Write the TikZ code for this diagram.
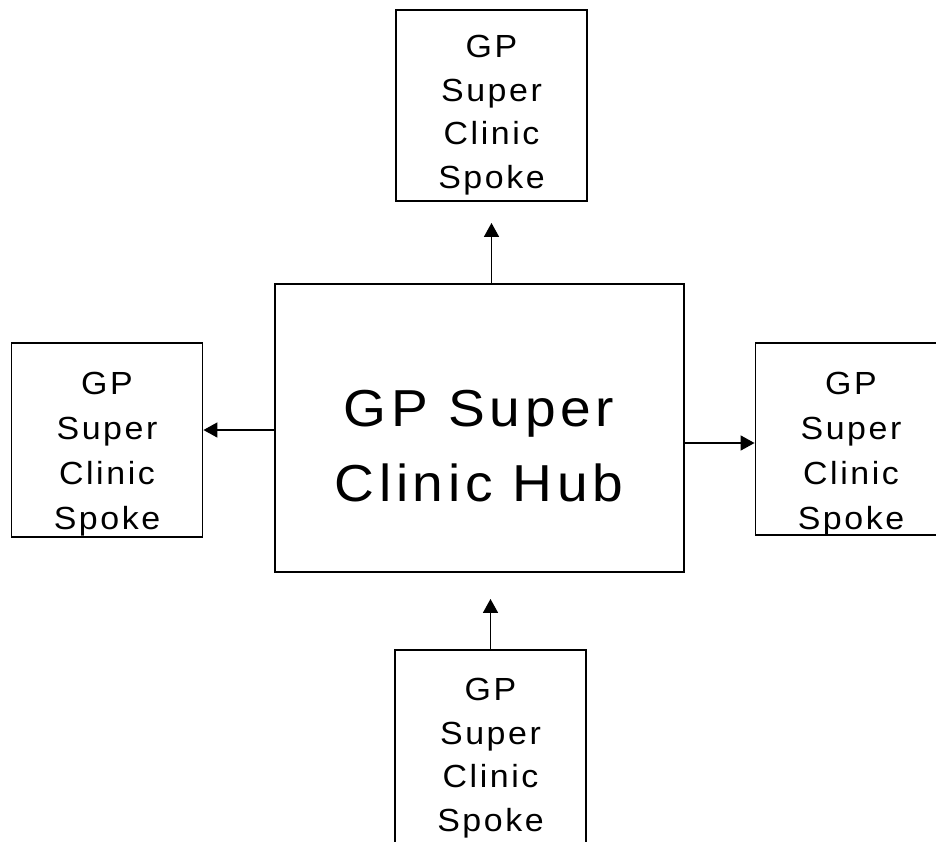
\documentclass[tikz,border=0pt]{standalone}
\usepackage{fontspec}
\setmainfont{Liberation Sans}
\newfontfamily\spokefont[LetterSpace=8,FakeStretch=1.06]{Liberation Sans}
\newfontfamily\hubfont[LetterSpace=9,FakeStretch=1.06]{Liberation Sans}
\usetikzlibrary{arrows.meta}
\begin{document}
\begin{tikzpicture}[x=1pt,y=-1pt,
  spokebox/.style={draw, line width=1.9pt, inner sep=0, minimum width=191pt, minimum height=#1},
  spokebox/.default=192pt,
  hubbox/.style={draw, line width=1.9pt, inner sep=0, minimum width=409pt, minimum height=288pt},
  spoketext/.style={align=center, inner sep=0, anchor=north, font=\spokefont\fontsize{32}{#1}\selectfont},
  spoketext/.default=43.5,
  hubtext/.style={align=center, inner sep=0, anchor=north, font=\hubfont\fontsize{52}{75}\selectfont},
  arr/.style={line width=1.7pt, -{Triangle[length=14pt,width=15pt]}}]
\useasboundingbox (0,0) rectangle (936,841);
\clip (0,0) rectangle (936,841);
% boxes
\node[spokebox=191pt] (top) at (491.5,105.5) {};
\node[hubbox] (hub) at (479.5,428) {};
\node[spokebox=194pt] (left) at (107,440) {};
\node[spokebox=192pt] (right) at (851,439) {};
\node[spokebox=210pt] (bottom) at (490.5,755) {};
% texts
\node[spoketext=43.5] (toptext) at (491.5,35) {GP\\Super\\Clinic\\Spoke};
\node[spoketext=45] (lefttext) at (107,372) {GP\\Super\\Clinic\\Spoke};
\node[spoketext=45] (righttext) at (851,372) {GP\\Super\\Clinic\\Spoke};
\node[spoketext=43.5] (bottomtext) at (490.5,678) {GP\\Super\\Clinic\\Spoke};
\node[hubtext] (hubtxt) at (479,390) {GP Super\\Clinic Hub};
% connectors
\draw[arr, shorten >=21pt] (hub.north -| top.south) -- (top.south);
\draw[arr, shorten >=26pt] (bottom.north) -- (bottom.north |- hub.south);
\draw[arr] (hub.west |- 0,430) -- (left.east |- 0,430);
\draw[arr] (hub.east |- 0,443) -- (right.west |- 0,443);
\end{tikzpicture}
\end{document}
